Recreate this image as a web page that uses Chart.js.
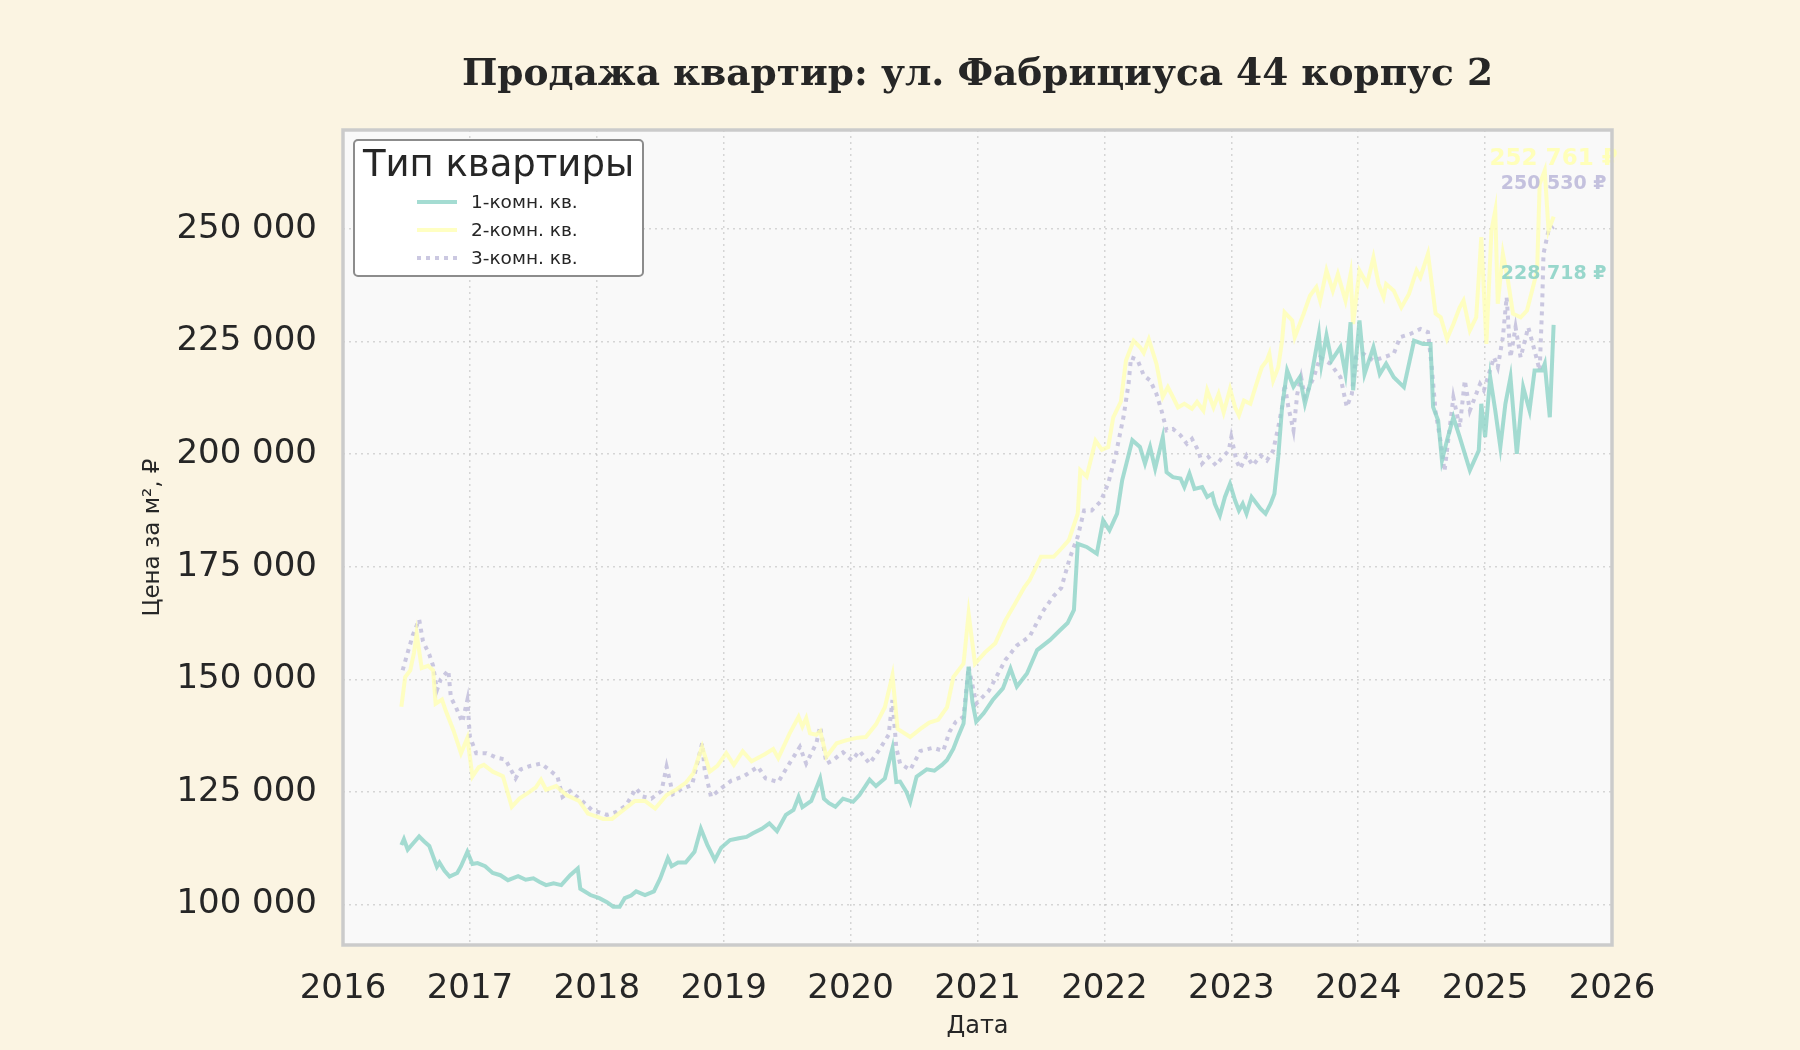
<!DOCTYPE html>
<html lang="ru">
<head>
<meta charset="utf-8">
<title>Продажа квартир: ул. Фабрициуса 44 корпус 2</title>
<script src="https://cdn.jsdelivr.net/npm/chart.js@4.4.1/dist/chart.umd.min.js"></script>
<style>
    html, body { margin: 0; padding: 0; background: #fbf4e2; }
    #wrap { width: 1800px; height: 1050px; }
</style>
</head>
<body>
<div id="wrap"><canvas id="chart" width="1800" height="1050"></canvas></div>
<script>
// 1-комн. кв.
const years1 = [2016.46,2016.48,2016.51,2016.55,2016.60,2016.64,2016.68,2016.74,2016.76,2016.80,2016.84,2016.90,2016.93,2016.98,
    2017.02,2017.06,2017.12,2017.18,2017.24,2017.30,2017.38,2017.44,2017.50,2017.55,2017.60,2017.66,2017.72,2017.79,2017.85,2017.87,2017.95,
    2018.02,2018.08,2018.13,2018.18,2018.22,2018.27,2018.31,2018.38,2018.45,2018.50,2018.56,2018.59,2018.64,2018.70,2018.77,2018.82,2018.87,2018.93,2018.98,
    2019.05,2019.12,2019.18,2019.23,2019.30,2019.36,2019.42,2019.49,2019.55,2019.59,2019.62,2019.69,2019.76,2019.79,2019.83,2019.88,2019.94,
    2020.02,2020.07,2020.15,2020.20,2020.27,2020.33,2020.36,2020.39,2020.44,2020.47,2020.52,2020.60,2020.66,2020.72,2020.76,2020.81,2020.85,2020.89,2020.93,2020.96,2020.99,
    2021.05,2021.12,2021.20,2021.26,2021.31,2021.39,2021.47,2021.57,2021.65,2021.71,2021.76,2021.79,2021.86,2021.94,2021.99,
    2022.04,2022.10,2022.14,2022.22,2022.28,2022.32,2022.36,2022.40,2022.46,2022.49,2022.54,2022.60,2022.63,2022.67,2022.71,2022.77,2022.81,2022.85,2022.87,2022.91,2022.95,2022.99,
    2023.03,2023.06,2023.09,2023.12,2023.16,2023.23,2023.27,2023.31,2023.34,2023.37,2023.40,2023.44,2023.49,2023.54,2023.58,2023.62,2023.69,2023.71,2023.75,2023.79,2023.86,2023.90,2023.94,2023.96,
    2024.01,2024.05,2024.12,2024.17,2024.22,2024.28,2024.36,2024.44,2024.51,2024.57,2024.59,2024.63,2024.66,2024.70,2024.75,2024.80,2024.88,2024.95,2024.97,
    2025.00,2025.04,2025.08,2025.12,2025.16,2025.20,2025.25,2025.30,2025.35,2025.39,2025.45,2025.47,2025.51,2025.54];
const prices1 = [113200,114500,112200,113500,115100,114000,113000,108400,109300,107500,106200,107000,108500,111700,
    109000,109200,108500,107000,106500,105400,106300,105500,105800,105000,104300,104700,104300,106500,108000,103500,102100,
    101400,100500,99500,99500,101400,102000,102900,102100,102900,105800,110300,108500,109300,109300,111700,116800,113300,109900,112600,
    114300,114700,115000,115800,116800,118000,116300,119900,121000,123900,121600,123000,128000,123500,122500,121700,123500,
    122800,124300,127700,126300,128000,134700,127200,127300,125000,122800,128400,130000,129700,131000,132100,134600,137500,140200,152800,145000,140600,
    142500,145400,148000,152400,148400,151300,156500,158700,160900,162500,165400,180100,179400,177900,185300,
    183100,186800,194200,203100,201600,197900,201600,196800,203800,196000,194900,194600,192700,195700,192300,192700,190500,191200,189000,186400,190500,193400,
    189700,187500,189000,186800,190500,187900,186800,189000,191200,199400,210400,218600,215000,217100,211200,215600,226700,220000,226400,220800,223800,217800,229300,214200,
    229700,217800,223800,217800,220100,217100,214900,225200,224500,224500,210500,207500,198600,203100,208200,203800,196400,200800,211200,
    203800,217100,209700,201600,211200,217100,200100,214900,209700,218600,218600,220100,208200,228718];

// 2-комн. кв.
const years2 = [2016.46,2016.49,2016.53,2016.56,2016.58,2016.62,2016.67,2016.71,2016.73,2016.78,2016.81,2016.87,2016.93,2016.98,
    2017.02,2017.07,2017.11,2017.18,2017.26,2017.33,2017.39,2017.47,2017.52,2017.56,2017.60,2017.68,2017.76,2017.86,2017.93,
    2018.00,2018.05,2018.12,2018.20,2018.30,2018.38,2018.46,2018.55,2018.63,2018.70,2018.76,2018.83,2018.89,2018.95,
    2019.02,2019.08,2019.15,2019.22,2019.32,2019.39,2019.43,2019.52,2019.59,2019.62,2019.65,2019.68,2019.73,2019.76,2019.81,2019.89,2019.97,
    2020.05,2020.12,2020.20,2020.27,2020.33,2020.37,2020.47,2020.55,2020.62,2020.69,2020.76,2020.81,2020.89,2020.93,2020.98,
    2021.06,2021.14,2021.22,2021.29,2021.37,2021.41,2021.50,2021.60,2021.66,2021.72,2021.79,2021.81,2021.86,2021.93,2021.98,
    2022.03,2022.07,2022.13,2022.17,2022.23,2022.28,2022.31,2022.35,2022.41,2022.46,2022.50,2022.54,2022.58,2022.63,2022.69,2022.73,2022.78,2022.81,2022.86,2022.90,2022.94,2022.99,
    2023.03,2023.06,2023.10,2023.15,2023.19,2023.24,2023.28,2023.30,2023.33,2023.37,2023.40,2023.42,2023.48,2023.50,2023.57,2023.62,2023.67,2023.70,2023.75,2023.80,2023.84,2023.90,2023.94,2023.96,
    2024.01,2024.07,2024.12,2024.16,2024.20,2024.22,2024.28,2024.34,2024.40,2024.46,2024.49,2024.55,2024.61,2024.65,2024.70,2024.75,2024.80,2024.83,2024.88,2024.93,2024.97,
    2025.01,2025.05,2025.08,2025.10,2025.14,2025.18,2025.22,2025.28,2025.33,2025.37,2025.41,2025.43,2025.47,2025.50,2025.54];
const prices2 = [143900,150500,152000,156000,160200,152500,153000,152000,144600,145500,143000,138700,133600,137000,
    128400,130500,131000,129500,128500,121700,123500,125000,126000,127700,125500,126300,124300,123000,120200,
    119500,119000,119000,120800,123000,123000,121300,124300,125600,127000,129100,135000,129500,130800,
    133600,131000,134000,131800,133300,134500,132500,138000,141700,139500,141400,138000,137700,138500,132800,135800,136500,
    137000,137200,140000,143800,150900,139000,137200,139000,140400,141000,143800,150500,153500,164600,153500,
    156000,158000,163100,166500,170500,172000,177200,177200,179000,180900,186800,196400,195000,203000,201000,
    201600,208200,211700,220800,225200,223800,222500,225500,220100,212700,214900,212700,210400,211200,210100,211600,209700,214200,210400,213400,209300,214500,
    210400,208600,211900,211200,214900,219300,220800,222300,216400,219300,225200,231500,229700,226000,231200,235200,237100,234100,240800,236300,240000,234100,240000,228900,
    240800,237800,243700,237800,234900,237800,236300,232600,235600,240800,239300,244500,231200,230400,225600,228900,232600,234100,227500,230400,248200,
    224500,249700,254100,233400,244500,238600,231200,230400,231900,236300,240800,260000,263000,249700,252761];

// 3-комн. кв.
const years3 = [2016.47,2016.50,2016.55,2016.60,2016.63,2016.68,2016.71,2016.74,2016.77,2016.83,2016.85,2016.89,2016.94,2016.98,
    2017.00,2017.05,2017.13,2017.21,2017.28,2017.36,2017.40,2017.48,2017.56,2017.62,2017.69,2017.73,2017.79,2017.88,2017.96,
    2018.08,2018.15,2018.23,2018.31,2018.36,2018.43,2018.51,2018.55,2018.60,2018.67,2018.75,2018.83,2018.85,2018.90,2018.99,
    2019.06,2019.16,2019.27,2019.33,2019.43,2019.50,2019.60,2019.65,2019.73,2019.76,2019.81,2019.86,2019.94,
    2020.01,2020.07,2020.15,2020.22,2020.30,2020.33,2020.36,2020.39,2020.47,2020.55,2020.65,2020.73,2020.78,2020.83,2020.89,2020.93,2020.99,
    2021.09,2021.22,2021.31,2021.41,2021.52,2021.60,2021.66,2021.73,2021.79,2021.84,2021.90,2021.97,
    2022.03,2022.09,2022.15,2022.19,2022.21,2022.26,2022.31,2022.36,2022.41,2022.45,2022.49,2022.54,2022.60,2022.65,2022.69,2022.74,2022.77,2022.82,2022.88,2022.92,2022.98,
    2023.00,2023.04,2023.07,2023.12,2023.17,2023.23,2023.28,2023.33,2023.37,2023.40,2023.42,2023.45,2023.49,2023.52,2023.55,2023.58,2023.65,2023.70,2023.78,2023.86,2023.91,2023.95,2023.98,
    2024.04,2024.12,2024.20,2024.28,2024.33,2024.41,2024.49,2024.55,2024.58,2024.61,2024.65,2024.68,2024.75,2024.80,2024.84,2024.88,2024.96,2024.99,
    2025.07,2025.10,2025.14,2025.17,2025.20,2025.24,2025.28,2025.34,2025.39,2025.43,2025.45,2025.46,2025.50,2025.54];
const prices3 = [152000,155000,159800,163300,158500,155500,153000,147600,150000,152000,146000,143800,140500,145400,
    137200,133600,133600,132600,132200,128000,130000,130800,131300,130000,128400,123900,125200,123100,121000,
    119900,120500,122000,125800,124000,123500,125200,130600,124500,125700,126500,135800,130000,123900,126000,
    127500,128500,130600,128000,127200,130500,135000,131300,135800,139500,131300,132000,133800,
    132000,134100,131300,134100,137700,145400,134800,131300,129900,134100,134800,134100,138400,140600,141700,152800,144600,
    147500,154300,157500,159500,165300,168500,170300,177200,181700,187500,187500,189500,
    193500,200000,208200,215500,221500,221000,217500,216400,213400,209700,205300,205600,204200,202300,203400,200800,197900,199400,197500,199000,200800,
    203800,198600,196800,199700,197500,199700,198600,200800,206000,210400,215600,210400,205300,213400,217100,212700,217100,221500,220100,217100,210500,213400,221500,
    222300,220800,221500,222300,226000,226700,227800,227100,219300,209300,202700,196200,212600,206000,216400,209700,215600,214200,
    221500,219300,226000,234900,221500,228200,221500,228200,223000,218600,233400,244500,249700,250530];

const seriesNames = ['1-комн. кв.', '2-комн. кв.', '3-комн. кв.'];
const xTickValues = [2016, 2017, 2018, 2019, 2020, 2021, 2022, 2023, 2024, 2025, 2026];
const yTickValues = [100000, 125000, 150000, 175000, 200000, 225000, 250000];

const TITLE = 'Продажа квартир: ул. Фабрициуса 44 корпус 2';
const COLORS = ['#8dd3c7', '#ffffb3', '#bebada'];
const LINE_COLORS = ['rgba(141,211,199,0.8)', 'rgba(255,255,179,0.8)', 'rgba(190,186,218,0.8)'];
const LABEL_STYLE = [
    { size: 19, dy: 51 },
    { size: 23, dy: 58 },
    { size: 19, dy: 43 },
];
const SANS = '"DejaVu Sans", sans-serif';
const TEXT = '#262626';

function fmtThousands(v) {
    return String(Math.round(v)).replace(/\B(?=(\d{3})+(?!\d))/g, ' ');
}

function toPoints(xs, ys) {
    return xs.map((x, i) => ({ x: x, y: ys[i] }));
}

const decorPlugin = {
    id: 'decor',
    beforeDraw(chart) {
        const { ctx, chartArea: a } = chart;
        ctx.save();
        ctx.fillStyle = '#fbf4e2';
        ctx.fillRect(0, 0, chart.width, chart.height);
        ctx.fillStyle = '#f9f9f9';
        ctx.fillRect(a.left, a.top, a.right - a.left, a.bottom - a.top);
        ctx.restore();
    },
    afterDatasetsDraw(chart) {
        const { ctx, chartArea: a } = chart;
        // end-of-series labels
        ctx.save();
        ctx.textAlign = 'center';
        ctx.textBaseline = 'middle';
        chart.data.datasets.forEach((ds, i) => {
            const last = ds.data[ds.data.length - 1];
            const px = chart.scales.x.getPixelForValue(last.x);
            const py = chart.scales.y.getPixelForValue(last.y);
            ctx.font = 'bold ' + LABEL_STYLE[i].size + 'px ' + SANS;
            ctx.fillStyle = COLORS[i];
            ctx.globalAlpha = 0.9;
            ctx.fillText(fmtThousands(last.y) + ' ₽', px, py - LABEL_STYLE[i].dy);
        });
        ctx.restore();

        // frame
        ctx.save();
        ctx.strokeStyle = '#cbcbcb';
        ctx.lineWidth = 3.5;
        ctx.strokeRect(a.left, a.top, a.right - a.left, a.bottom - a.top);
        ctx.restore();
    },
    afterDraw(chart) {
        const { ctx, chartArea: a } = chart;
        ctx.save();
        // title
        ctx.fillStyle = TEXT;
        ctx.textAlign = 'center';
        ctx.textBaseline = 'middle';
        ctx.font = 'bold 37.5px "DejaVu Serif", serif';
        ctx.fillText(TITLE, (a.left + a.right) / 2, 75);

        // axis titles
        ctx.font = '24px ' + SANS;
        ctx.fillText('Дата', (a.left + a.right) / 2, 1027);
        ctx.save();
        ctx.translate(153, (a.top + a.bottom) / 2);
        ctx.rotate(-Math.PI / 2);
        ctx.font = '23px ' + SANS;
        ctx.fillText('Цена за м², ₽', 0, 0);
        ctx.restore();

        // legend
        const lx = 354, ly = 140, lw = 289, lh = 136;
        ctx.beginPath();
        ctx.roundRect(lx, ly, lw, lh, 4);
        ctx.fillStyle = '#ffffff';
        ctx.fill();
        ctx.lineWidth = 2;
        ctx.strokeStyle = '#8c8c8c';
        ctx.stroke();

        ctx.fillStyle = TEXT;
        ctx.font = '37px ' + SANS;
        ctx.fillText('Тип квартиры', lx + lw / 2, 166);

        const rows = [202, 230, 258];
        ctx.textAlign = 'left';
        ctx.font = '18.5px ' + SANS;
        seriesNames.forEach((name, i) => {
            ctx.save();
            ctx.strokeStyle = LINE_COLORS[i];
            ctx.lineWidth = 4;
            if (i === 2) ctx.setLineDash([4, 5]);
            ctx.beginPath();
            ctx.moveTo(417, rows[i]);
            ctx.lineTo(457, rows[i]);
            ctx.stroke();
            ctx.restore();
            ctx.fillStyle = TEXT;
            ctx.fillText(name, 471, rows[i] + 1);
        });
        ctx.restore();
    }
};

const gridStyle = {
    color: 'rgba(160,160,160,0.4)',
    lineWidth: 1.5,
    drawTicks: false,
};
const borderStyle = { display: false, dash: [2, 4] };

new Chart(document.getElementById('chart'), {
    type: 'line',
    data: {
        datasets: [
            { label: seriesNames[0], data: toPoints(years1, prices1), borderColor: LINE_COLORS[0], borderWidth: 4 },
            { label: seriesNames[1], data: toPoints(years2, prices2), borderColor: LINE_COLORS[1], borderWidth: 4 },
            { label: seriesNames[2], data: toPoints(years3, prices3), borderColor: LINE_COLORS[2], borderWidth: 4, borderDash: [4, 5] },
        ],
    },
    options: {
        responsive: false,
        devicePixelRatio: 1,
        animation: false,
        layout: { padding: { top: 130, right: 188, left: 0, bottom: 0 } },
        elements: { point: { radius: 0 }, line: { tension: 0, fill: false } },
        plugins: { legend: { display: false }, title: { display: false }, tooltip: { enabled: false } },
        scales: {
            x: {
                type: 'linear',
                min: 2016,
                max: 2026,
                afterBuildTicks(scale) { scale.ticks = xTickValues.map(v => ({ value: v })); },
                afterFit(scale) { scale.height = 105; },
                grid: gridStyle,
                border: borderStyle,
                ticks: { color: TEXT, font: { family: SANS, size: 34 }, padding: 24, maxRotation: 0, callback: v => String(v) },
            },
            y: {
                type: 'linear',
                min: 91000,
                max: 272000,
                afterBuildTicks(scale) { scale.ticks = yTickValues.map(v => ({ value: v })); },
                afterFit(scale) { scale.width = 343; },
                grid: gridStyle,
                border: borderStyle,
                ticks: { color: TEXT, font: { family: SANS, size: 34 }, padding: 26, callback: v => fmtThousands(v) },
            },
        },
    },
    plugins: [decorPlugin],
});
</script>
</body>
</html>
